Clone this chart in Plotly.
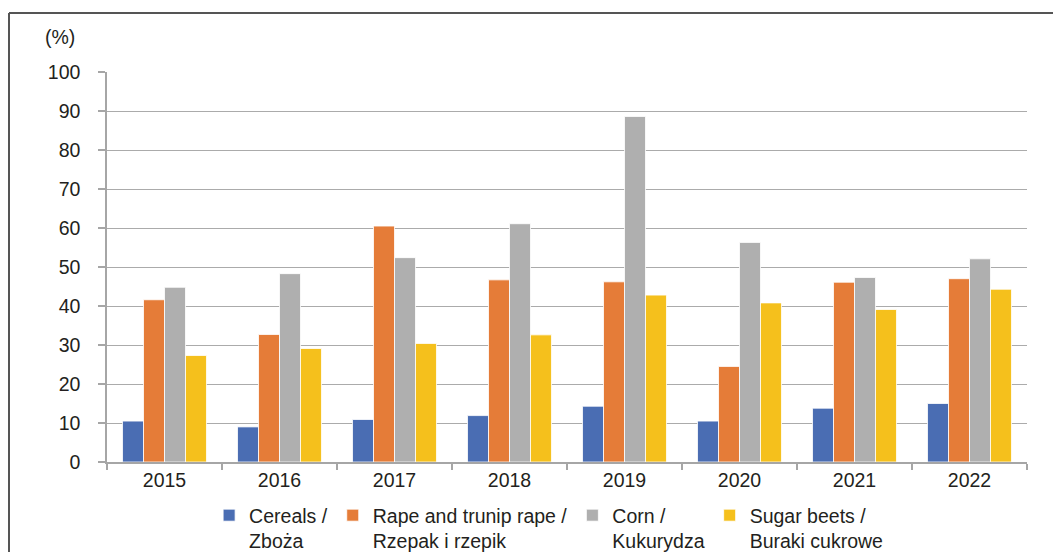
import plotly.graph_objects as go

years = ["2015", "2016", "2017", "2018", "2019", "2020", "2021", "2022"]
cereals = [10.5, 9.0, 10.9, 11.9, 14.3, 10.5, 13.8, 15.0]
rape = [41.6, 32.7, 60.5, 46.7, 46.2, 24.5, 46.1, 47.0]
corn = [44.8, 48.3, 52.4, 61.1, 88.6, 56.3, 47.3, 52.1]
sugar = [27.3, 29.1, 30.4, 32.6, 42.8, 40.8, 39.1, 44.3]

names = ["Cereals /<br>Zboża", "Rape and trunip rape /<br>Rzepak i rzepik",
         "Corn /<br>Kukurydza", "Sugar beets /<br>Buraki cukrowe"]
colors = ["#4A6DB3", "#E57C38", "#AFAFAF", "#F5C01C"]
series = [cereals, rape, corn, sugar]

font_family = "Liberation Sans, Arial, sans-serif"
text_color = "#231F20"
fs = 19.5

fig = go.Figure()
for name, vals, col in zip(names, series, colors):
    fig.add_trace(go.Bar(x=years, y=vals, name=name,
                         marker=dict(color=col, line=dict(color="white", width=0.8))))

fig.update_layout(
    width=1053, height=552,
    margin=dict(l=107, r=26, t=72, b=90, autoexpand=False),
    paper_bgcolor="white", plot_bgcolor="white",
    barmode="group", bargap=0.27, bargroupgap=0,
    font=dict(family=font_family, size=fs, color=text_color),
    showlegend=True,
    legend=dict(orientation="h", x=0.111, xanchor="left",
                yref="container", y=1 - 496 / 552, yanchor="top",
                valign="top", font=dict(size=fs, color=text_color),
                traceorder="normal", itemclick=False, bgcolor="rgba(0,0,0,0)"),
)
fig.update_xaxes(
    type="category", showline=True, linecolor="#A6A6A6", linewidth=1.5,
    ticks="outside", tickson="boundaries", ticklen=6, tickcolor="#A6A6A6", tickwidth=1.5,
    showgrid=False, tickfont=dict(size=fs, color=text_color),
)
fig.update_yaxes(
    range=[0, 100], dtick=10, tick0=0, showline=True, linecolor="#A6A6A6", linewidth=1.5,
    ticks="outside", ticklen=7, tickcolor="#A6A6A6", tickwidth=1.5,
    showgrid=True, gridcolor="#ABABAB", gridwidth=1.3, zeroline=False,
    ticklabelstandoff=14, tickfont=dict(size=fs, color=text_color),
)

fig.add_annotation(text="(%)", xref="paper", yref="paper", x=(60 - 107) / 920, y=(462 - 37) / 390,
                   showarrow=False, xanchor="center", yanchor="middle",
                   font=dict(size=fs, color=text_color))

# outer frame (left and top edges)
y_top = (462 - 13) / 390
y_bot = (462 - 560) / 390
x_left = (9 - 107) / 920
x_right = (1060 - 107) / 920
fig.add_shape(type="line", xref="paper", yref="paper", x0=x_left, x1=x_left, y0=y_bot, y1=y_top,
              line=dict(color="#555555", width=2))
fig.add_shape(type="line", xref="paper", yref="paper", x0=x_left, x1=x_right, y0=y_top, y1=y_top,
              line=dict(color="#555555", width=2))

fig.write_html("out.html")
